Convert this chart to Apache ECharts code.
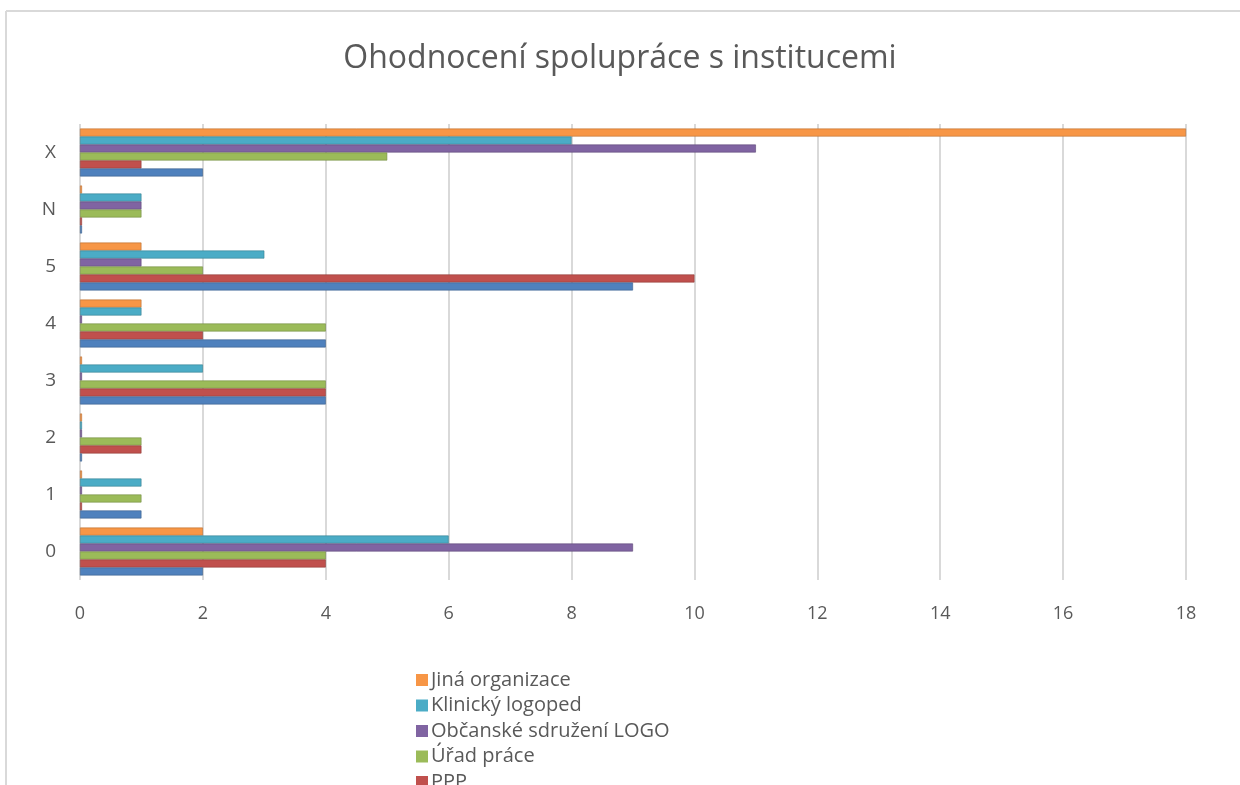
<!DOCTYPE html>
<html>
<head>
<meta charset="utf-8">
<script src="https://cdn.jsdelivr.net/npm/echarts@6/dist/echarts.min.js"></script>
<style>
html, body { margin: 0; padding: 0; background: #fff; }
#chart { width: 1240px; height: 785px; }
</style>
</head>
<body>
<div id="chart"></div>
<script>
// categories bottom -> top
var categories = ['0', '1', '2', '3', '4', '5', 'N', 'X'];
var xTicks = [0, 2, 4, 6, 8, 10, 12, 14, 16, 18];

// values per category (0,1,2,3,4,5,N,X)
var jinaOrganizace = [2, 0, 0, 0, 1, 1, 0, 18];
var klinickyLogoped = [6, 1, 0, 2, 1, 3, 1, 8];
var obcanskeSdruzeni = [9, 0, 0, 0, 0, 1, 1, 11];
var uradPrace = [4, 1, 1, 4, 4, 2, 1, 5];
var ppp = [4, 0, 1, 4, 2, 10, 0, 1];
var spc = [2, 1, 0, 4, 4, 9, 0, 2];

var names = ['Jiná organizace', 'Klinický logoped', 'Občanské sdružení LOGO', 'Úřad práce', 'PPP', 'SPC'];
var colors = ['#F79646', '#4BACC6', '#8064A2', '#9BBB59', '#C0504D', '#4F81BD'];
var edges = ['#b86f33', '#35808f', '#5c4776', '#728a41', '#8e3a38', '#3a5f8b'];
var allData = [jinaOrganizace, klinickyLogoped, obcanskeSdruzeni, uradPrace, ppp, spc];

var series = [];
for (var i = 0; i < names.length; i++) {
    series.push({
        name: names[i],
        type: 'bar',
        data: allData[i],
        barGap: '0%',
        barCategoryGap: '16%',
        barMinHeight: 2,
        itemStyle: {
            color: colors[i],
            borderColor: edges[i],
            borderWidth: 0.6
        }
    });
}

var chart = echarts.init(document.getElementById('chart'));
chart.setOption({
    animation: false,
    textStyle: { fontFamily: 'Open Sans' },
    title: {
        text: 'Ohodnocení spolupráce s institucemi',
        left: 'center',
        top: 38,
        textStyle: { fontSize: 32, fontWeight: 'normal', color: '#595959', fontFamily: 'Open Sans' }
    },
    legend: {
        orient: 'vertical',
        left: 411,
        top: 665,
        height: 400,
        itemWidth: 12,
        itemHeight: 12,
        itemGap: 5.5,
        icon: 'rect',
        itemStyle: { borderWidth: 0 },
        textStyle: { fontSize: 20, color: '#595959', padding: [0, 0, 0, -2] },
        data: names
    },
    grid: { left: 80, right: 54, top: 124, bottom: 205 },
    xAxis: {
        type: 'value',
        min: 0,
        max: 18,
        interval: 2,
        axisLine: { show: false },
        axisTick: { show: false },
        axisLabel: {
            fontSize: 18,
            color: '#595959',
            margin: 25,
            formatter: function (v) { return xTicks.indexOf(v) >= 0 ? String(v) : ''; }
        },
        splitLine: { lineStyle: { color: '#d9d9d9', width: 2 } }
    },
    yAxis: {
        type: 'category',
        data: categories,
        axisLine: { show: false },
        axisTick: { show: false },
        axisLabel: { fontSize: 19, color: '#595959', margin: 24 }
    },
    graphic: [
        { type: 'line', shape: { x1: 6, y1: 11, x2: 1240, y2: 11 }, style: { stroke: '#d9d9d9', lineWidth: 2 } },
        { type: 'line', shape: { x1: 6, y1: 11, x2: 6, y2: 785 }, style: { stroke: '#d9d9d9', lineWidth: 2 } }
    ],
    series: series
});
</script>
</body>
</html>
